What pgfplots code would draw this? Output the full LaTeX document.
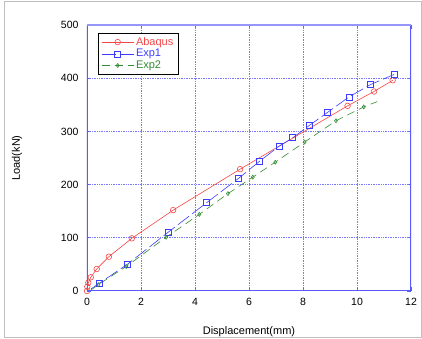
\documentclass[border=0pt]{standalone}
\usepackage{pgfplots}
\pgfplotsset{compat=1.18}
\usepackage{fontspec}
\setmainfont{Liberation Sans}
\definecolor{abq}{RGB}{245,70,70}
\definecolor{ex1}{RGB}{60,60,255}
\definecolor{ex2}{RGB}{50,140,50}
\definecolor{axblue}{RGB}{90,90,250}
\definecolor{toplite}{RGB}{150,150,250}
\definecolor{gridblue}{RGB}{120,120,255}
\begin{document}
\begin{tikzpicture}[x=1pt,y=1pt]
\useasboundingbox (-87,-48) rectangle (335,291);
\draw[black!25, line width=1pt] (-82,-46) rectangle (334,289);
\begin{axis}[at={(0,0)}, anchor=south west, scale only axis,
  width=324pt, height=266pt,
  xmin=0, xmax=12, ymin=0, ymax=500,
  xtick={0,2,...,12}, ytick={0,100,...,500},
  axis line style={draw=none},
  every outer x axis line/.style={draw=none},
  every outer y axis line/.style={draw=none},
  tick style={draw=axblue, line width=0.8pt}, tick align=inside, major tick length=4pt,
  tick label style={font=\fontsize{10.5}{12}\selectfont, text=black},
  /pgf/number format/assume math mode=true,
  xticklabel style={yshift=-4pt},
  yticklabel style={xshift=-5pt},
  xlabel={Displacement(mm)}, ylabel={Load(kN)},
  label style={font=\fontsize{11}{12}\selectfont},
  xlabel style={at={(axis description cs:0.5,-0.154)}, anchor=center},
  ylabel style={at={(axis description cs:-0.216,0.5)}, anchor=center},
  legend style={at={(axis description cs:0.034,0.97)}, anchor=north west,
    draw=black, line width=0.8pt, fill=white,
    row sep=-1.5pt, inner xsep=3pt, inner ysep=2pt},
  legend cell align=left,
  legend image code/.code={\draw[#1, mark=none] plot coordinates {(0pt,0pt) (32pt,0pt)};
    \draw[#1, mark indices={1}, draw=none] plot coordinates {(16pt,0pt)};},
]
\pgfplotsinvokeforeach{1,2,3,4,5}{
  \draw[gridblue, densely dotted, line width=0.7pt] (rel axis cs:#1/6,0) -- (rel axis cs:#1/6,1);
  \draw[gridblue, densely dotted, line width=0.7pt] (rel axis cs:0,#1/5) -- (rel axis cs:1,#1/5);
}
\addplot[abq, line width=0.6pt, mark=o, mark size=2.8pt, mark options={solid}] coordinates {
(0,0) (0.01,8) (0.05,15.6) (0.14,25.8) (0.36,41.4) (0.81,64.5) (1.66,99) (3.19,152) (5.67,229) (9.65,348) (10.63,375) (11.32,396)};
\addlegendentry{\fontsize{11}{11}\selectfont\textcolor{abq}{Abaqus}}
\addplot[ex1, line width=0.6pt, dash pattern=on 14pt off 4pt, mark=square, mark size=3pt, mark options={solid, draw=ex1}, mark indices={2,3,...,15}] coordinates {
(0.15,4) (0.44,14) (1.49,50) (3.02,111) (4.43,166) (5.62,212) (6.37,243) (7.11,272) (7.62,288) (8.23,311) (8.89,335) (9.71,365) (10.5,388) (11.37,407)};
\addlegendentry{\fontsize{11}{11}\selectfont\textcolor{ex1}{Exp1}}
\addplot[ex2, line width=0.6pt, dash pattern=on 8pt off 5pt, mark=diamond, mark size=2pt, mark options={solid}, mark indices={2,3,...,11}] coordinates {
(0.1,0) (0.42,12) (1.45,46) (2.93,101) (4.16,144) (5.22,183) (6.14,214) (6.97,242) (8.06,280) (9.22,320) (10.25,346) (10.75,356)};
\addlegendentry{\fontsize{11}{11}\selectfont\textcolor{ex2}{Exp2}}
\draw[axblue, line width=1.1pt] (rel axis cs:0,1) -- (rel axis cs:0,0) -- (rel axis cs:1,0) -- (rel axis cs:1,1);
\draw[toplite, line width=1.2pt] (rel axis cs:0,1) -- (rel axis cs:1,1);
\end{axis}
\end{tikzpicture}
\end{document}
